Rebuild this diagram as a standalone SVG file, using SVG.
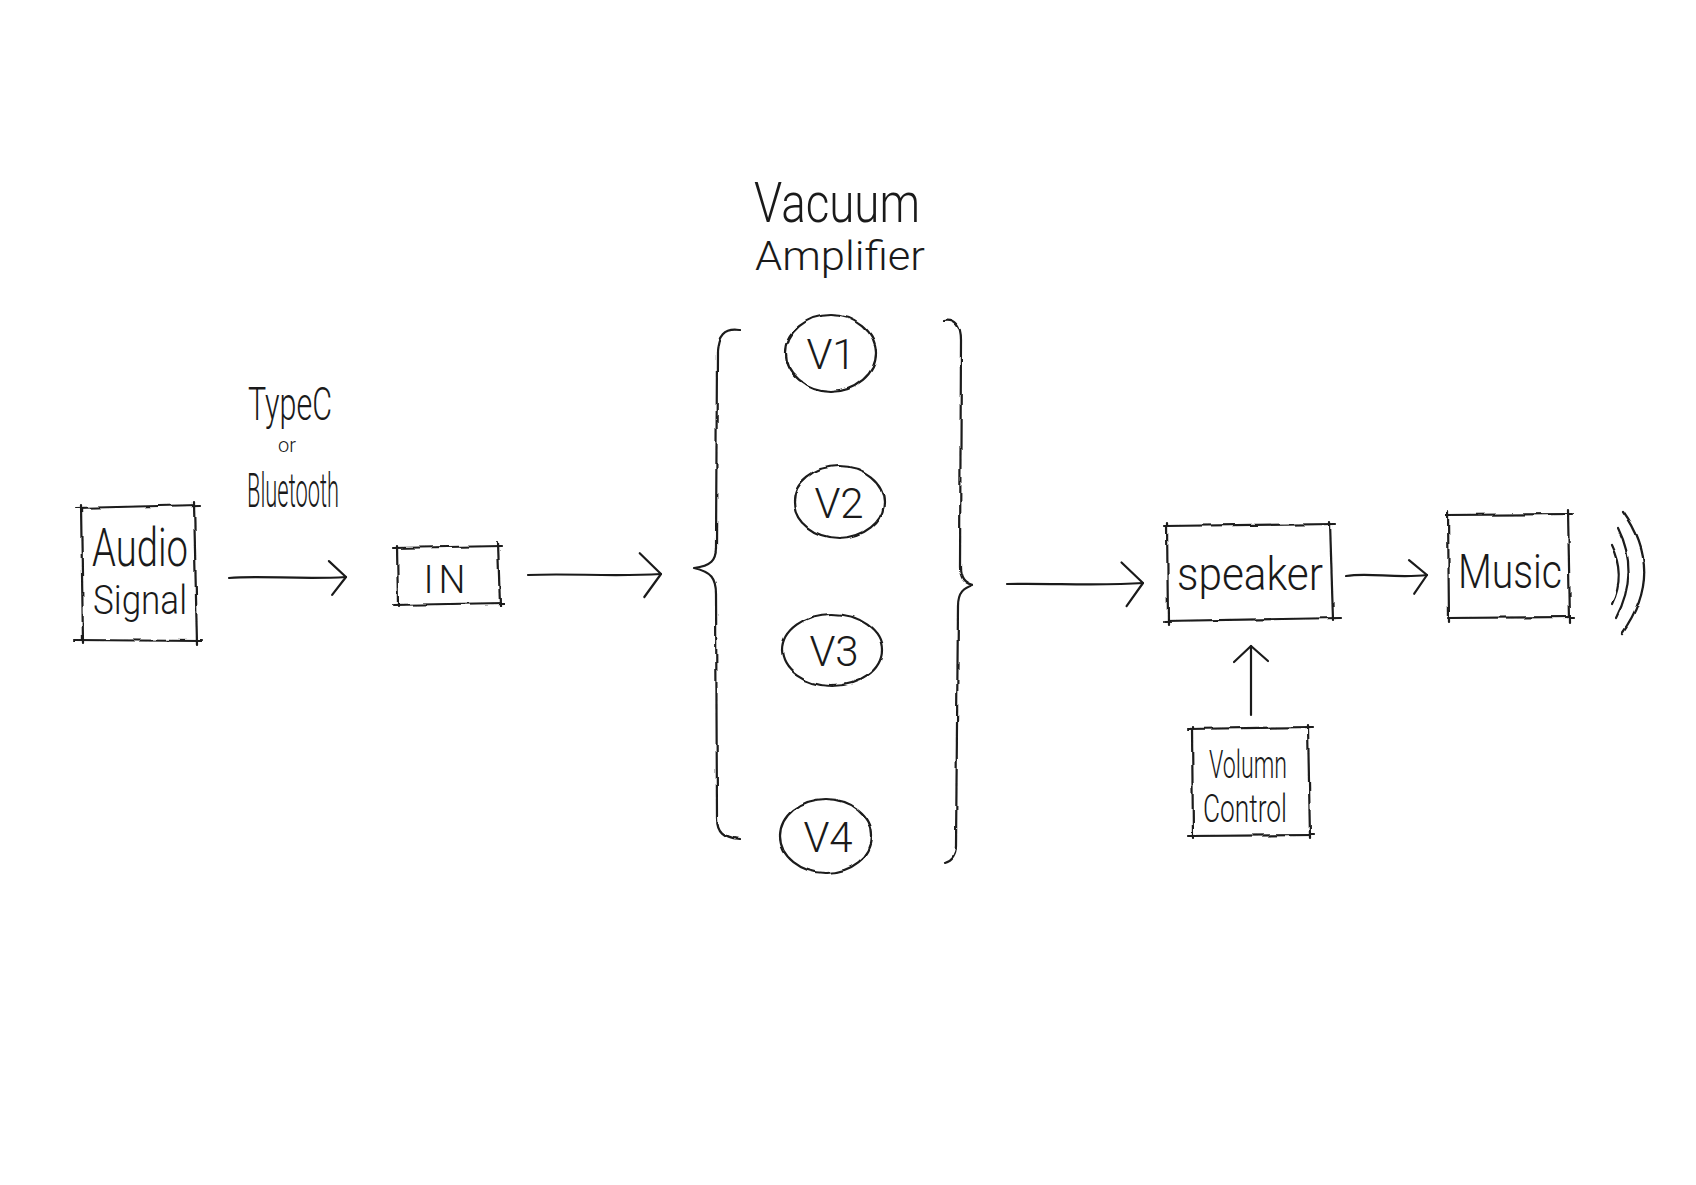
<svg xmlns="http://www.w3.org/2000/svg" width="1696" height="1185" viewBox="0 0 1696 1185">
<style>
.s{fill:none;stroke:#1a1a1a;stroke-width:2.2;stroke-linecap:round;stroke-linejoin:round}
.t{font-family:Roboto,Inter,"Liberation Sans",Arial,sans-serif;font-weight:300;fill:#1a1a1a;text-anchor:middle}
</style>
<defs>
<filter id="rough" filterUnits="userSpaceOnUse" x="0" y="0" width="1696" height="1185">
<feTurbulence type="fractalNoise" baseFrequency="0.045" numOctaves="2" seed="4" result="n"/>
<feDisplacementMap in="SourceGraphic" in2="n" scale="4" xChannelSelector="R" yChannelSelector="G"/>
</filter>
<marker id="head" markerUnits="userSpaceOnUse" markerWidth="30" markerHeight="50" refX="24" refY="24" orient="auto">
<path d="M4,2 L24,24 L6,46" fill="none" stroke="#1a1a1a" stroke-width="2.2" stroke-linecap="round" stroke-linejoin="round"/>
</marker>
<marker id="headS" markerUnits="userSpaceOnUse" markerWidth="26" markerHeight="40" refX="20" refY="19" orient="auto">
<path d="M4,2 L20,19 L5,36" fill="none" stroke="#1a1a1a" stroke-width="2.2" stroke-linecap="round" stroke-linejoin="round"/>
</marker>
</defs>
<rect width="1696" height="1185" fill="#ffffff"/>

<g id="audio-signal">
<g class="s" filter="url(#rough)">
<path d="M76,508 L200,505"/><path d="M81,505 L83,643"/><path d="M194,502 L197,645"/><path d="M75,640 L202,641"/>
</g>
<text class="t" x="140" y="566" font-size="54" textLength="96" lengthAdjust="spacingAndGlyphs">Audio</text>
<text class="t" x="140" y="614" font-size="40" textLength="94" lengthAdjust="spacingAndGlyphs">Signal</text>
</g>

<g id="label-typec">
<text class="t" x="290" y="420" font-size="46" textLength="84" lengthAdjust="spacingAndGlyphs">TypeC</text>
<text class="t" x="287" y="452" font-size="20">or</text>
<text class="t" x="293" y="507" font-size="48" textLength="92" lengthAdjust="spacingAndGlyphs">Bluetooth</text>
</g>

<g id="in">
<g class="s" filter="url(#rough)">
<path d="M393,548 L502,546"/><path d="M397,546 L398,606"/><path d="M498,542 L500,606"/><path d="M393,605 L504,603"/>
</g>
<text class="t" x="447" y="593" font-size="38" letter-spacing="5">IN</text>
</g>

<g id="vacuum-amplifier">
<text class="t" x="837" y="222" font-size="56" textLength="166" lengthAdjust="spacingAndGlyphs">Vacuum</text>
<text class="t" x="840" y="270" font-size="40" textLength="170" lengthAdjust="spacingAndGlyphs">Amplifier</text>
<g class="s" filter="url(#rough)">
<path d="M739,330 C724,328 718,336 717,352 L716,548 C716,560 711,566 694,568 C711,572 716,578 716,594 L717,818 C717,831 723,837 739,839"/>
<path d="M944,320 C956,318 961,326 961,340 L960,566 C960,578 964,583 973,585 C964,588 958,592 958,606 L956,846 C956,856 952,861 945,863"/>
</g>
</g>

<g id="v1">
<ellipse class="s" filter="url(#rough)" cx="831" cy="353" rx="45" ry="38"/>
<text class="t" x="831" y="369" font-size="42">V1</text>
</g>
<g id="v2">
<ellipse class="s" filter="url(#rough)" cx="839" cy="502" rx="45" ry="36"/>
<text class="t" x="839" y="518" font-size="42">V2</text>
</g>
<g id="v3">
<ellipse class="s" filter="url(#rough)" cx="832" cy="650" rx="50" ry="36"/>
<text class="t" x="834" y="666" font-size="42">V3</text>
</g>
<g id="v4">
<ellipse class="s" filter="url(#rough)" cx="826" cy="836" rx="46" ry="37"/>
<text class="t" x="828" y="852" font-size="42">V4</text>
</g>

<g id="speaker">
<g class="s" filter="url(#rough)">
<path d="M1164,526 L1336,524"/><path d="M1167,523 L1168,624"/><path d="M1330,522 L1333,620"/><path d="M1164,621 L1340,618"/>
</g>
<text class="t" x="1250" y="590" font-size="46" textLength="146" lengthAdjust="spacingAndGlyphs">speaker</text>
</g>

<g id="music">
<g class="s" filter="url(#rough)">
<path d="M1446,515 L1573,514"/><path d="M1448,511 L1449,622"/><path d="M1568,510 L1570,622"/><path d="M1448,618 L1574,617"/>
</g>
<text class="t" x="1510" y="588" font-size="48" textLength="104" lengthAdjust="spacingAndGlyphs">Music</text>
<g class="s" filter="url(#rough)">
<path d="M1611,545 Q1626,575 1612,603"/>
<path d="M1618,528 Q1640,572 1616,618"/>
<path d="M1623,512 Q1666,572 1622,634"/>
</g>
</g>

<g id="volume-control">
<g class="s" filter="url(#rough)">
<path d="M1188,729 L1313,727"/><path d="M1192,727 L1193,838"/><path d="M1308,725 L1310,838"/><path d="M1188,836 L1314,835"/>
</g>
<text class="t" x="1248" y="778" font-size="38" textLength="78" lengthAdjust="spacingAndGlyphs">Volumn</text>
<text class="t" x="1245" y="822" font-size="38" textLength="84" lengthAdjust="spacingAndGlyphs">Control</text>
</g>

<g id="connectors" class="s">
<path d="M229,578 C260,575 300,580 346,577" marker-end="url(#headS)"/>
<path d="M528,575 C570,573 610,577 661,574" marker-end="url(#head)"/>
<path d="M1007,584 C1050,583 1100,586 1143,583" marker-end="url(#head)"/>
<path d="M1346,576 C1370,572 1395,579 1427,575" marker-end="url(#headS)"/>
<path d="M1251,715 L1251,646" marker-end="url(#headS)"/>
</g>
</svg>
